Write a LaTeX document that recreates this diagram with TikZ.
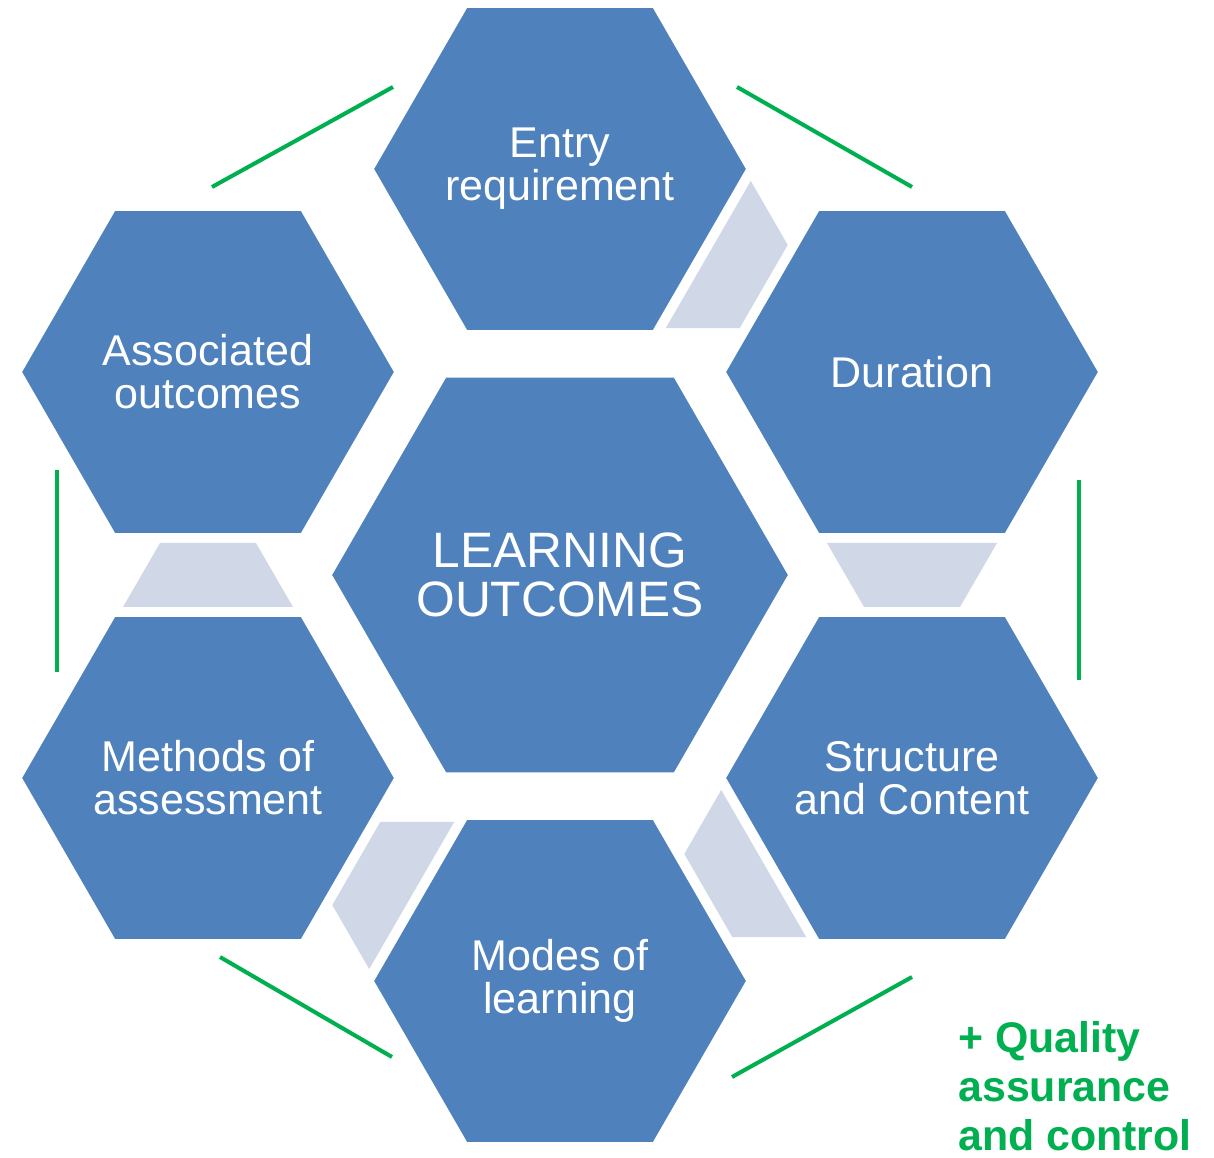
\documentclass[tikz,border=0pt]{standalone}
\usepackage{fontspec}
\setmainfont{Liberation Sans}
\usetikzlibrary{shapes.geometric,calc}
\definecolor{hexColor}{HTML}{4F81BD}
\definecolor{linkColor}{HTML}{D0D8E8}
\definecolor{qaColor}{HTML}{00B050}
\tikzset{
  hexa/.style={regular polygon, regular polygon sides=6, fill=hexColor,
    draw=white, line width=1pt, inner sep=0pt, outer sep=0pt,
    minimum size=7.48cm},
  hexbig/.style={hexa, minimum size=9.16cm},
  hextext/.style={text=white, align=center, inner sep=0pt,
    font=\fontsize{24.5}{24.6}\selectfont},
  bigtext/.style={hextext, font=\fontsize{28.3}{28}\selectfont},
  qaline/.style={qaColor, line width=2.3pt},
  qatext/.style={text=qaColor, align=left, inner sep=0pt,
    font=\bfseries\fontsize{24.4}{28}\selectfont},
}

\begin{document}
\begin{tikzpicture}[x=0.02cm, y=-0.02cm]
\useasboundingbox (0,0) rectangle (1214,1158);
% the seven hexagons
\node[hexbig] (lo) at (560,575) {};
\node[hexa] (entry) at (560,169) {};
\node[hexa] (duration) at (912,372) {};
\node[hexa] (structure) at (912,778) {};
\node[hexa] (modes) at (560,981) {};
\node[hexa] (methods) at (208,778) {};
\node[hexa] (associated) at (208,372) {};
% their texts
\node[bigtext] (lotxt) at (lo) {LEARNING\\OUTCOMES};
\node[hextext] (entrytxt) at (entry) {Entry\\requirement};
\node[hextext] (durationtxt) at (duration) {Duration};
\node[hextext] (structuretxt) at (structure) {Structure\\and Content};
\node[hextext] (modestxt) at (modes) {Modes of\\learning};
\node[hextext] (methodstxt) at (methods) {Methods of\\assessment};
\node[hextext] (associatedtxt) at (associated) {Associated\\outcomes};
% grey links between neighbours
\foreach \a/\b/\ang in {entry/duration/30, duration/structure/90,
    structure/modes/150, modes/methods/210, methods/associated/270}
  \fill[linkColor, shift={($(\a)!0.5!(\b)$)}, rotate=-\ang]
    (-32,-85) -- (-32,85) -- (32,48) -- (32,-48) -- cycle;
% green ring
\draw[qaline] (212,187) -- (393,87);
\draw[qaline] (737,87) -- (912,187);
\draw[qaline] (1079,480) -- (1079,680);
\draw[qaline] (912,977) -- (732,1077);
\draw[qaline] (392,1057) -- (220,957);
\draw[qaline] (57,470) -- (57,672);
\node[qatext, anchor=north west] (qa) at (958,1021) {+ Quality\\assurance\\and control};
\end{tikzpicture}
\end{document}
